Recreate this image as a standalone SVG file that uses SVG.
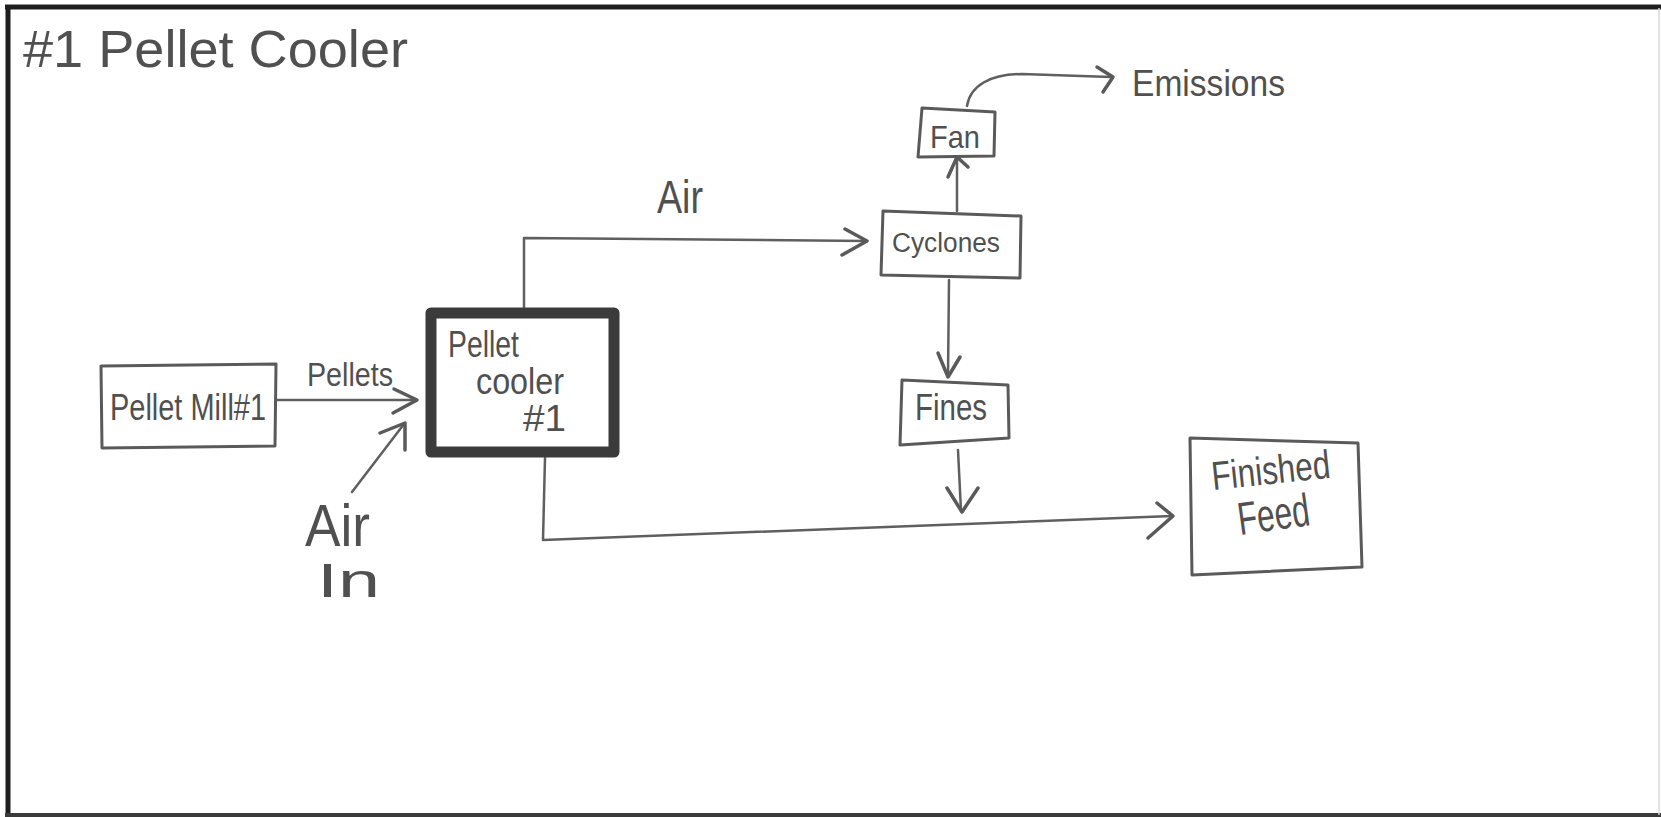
<svg xmlns="http://www.w3.org/2000/svg" width="1661" height="817" viewBox="0 0 1661 817">
<style>
.t{font-family:"Liberation Sans",Arial,sans-serif;fill:#505050}
.box{fill:none;stroke:#5a5a5a;stroke-width:3;stroke-linejoin:round}
.ln{fill:none;stroke:#5f5f5f;stroke-width:2.5;stroke-linecap:round;stroke-linejoin:round}
.hd{fill:none;stroke:#5a5a5a;stroke-width:3.5;stroke-linecap:round;stroke-linejoin:round}
</style>
<rect x="0" y="0" width="1661" height="817" fill="#ffffff"/>
<g id="frame">
<line x1="5" y1="7" x2="1661" y2="7" stroke="#1e1e1e" stroke-width="5"/>
<line x1="8" y1="5" x2="8" y2="816" stroke="#1e1e1e" stroke-width="5"/>
<line x1="5" y1="815" x2="1661" y2="815" stroke="#3a3a3a" stroke-width="4"/>
<line x1="1659" y1="8" x2="1659" y2="815" stroke="#d8d8d8" stroke-width="1.5"/>
</g>
<g id="title">
<text class="t" x="23" y="67" font-size="52" textLength="385" lengthAdjust="spacingAndGlyphs">#1 Pellet Cooler</text>
</g>
<g id="connectors">
<line class="ln" x1="276" y1="400" x2="416" y2="400"/>
<polyline class="hd" points="394,389 417,400 393,413"/>
<text class="t" x="307" y="386" font-size="34" textLength="86" lengthAdjust="spacingAndGlyphs">Pellets</text>
<line class="ln" x1="352" y1="492" x2="404" y2="424"/>
<polyline class="hd" points="380,433 405,423 405,450"/>
<path class="ln" d="M524,307 L524,238 L866,241"/>
<polyline class="hd" points="845,229 867,241 842,255"/>
<text class="t" x="657" y="213" font-size="46" textLength="46" lengthAdjust="spacingAndGlyphs">Air</text>
<line class="ln" x1="957" y1="211" x2="957" y2="158"/>
<polyline class="hd" points="948,177 957,157 968,167"/>
<path class="ln" d="M967,106 C970,86 990,74 1022,74 L1111,77"/>
<polyline class="hd" points="1097,67 1113,77 1103,92"/>
<line class="ln" x1="949" y1="280" x2="948" y2="376"/>
<polyline class="hd" points="938,353 948,377 960,357"/>
<line class="ln" x1="958" y1="450" x2="961" y2="511"/>
<polyline class="hd" points="947,488 962,512 978,488"/>
<path class="ln" d="M545,458 L543,540 L1172,516"/>
<polyline class="hd" points="1157,503 1173,516 1148,538"/>
</g>
<g id="air-in">
<text class="t" x="305" y="546" font-size="60" textLength="65" lengthAdjust="spacingAndGlyphs">Air</text>
<text class="t" x="317" y="597" font-size="48" textLength="63" lengthAdjust="spacingAndGlyphs">In</text>
</g>
<g id="pellet-mill">
<path class="box" d="M101,366 L276,364 L275,446 L102,448 Z"/>
<text class="t" x="110" y="420" font-size="36" textLength="156" lengthAdjust="spacingAndGlyphs">Pellet Mill#1</text>
</g>
<g id="pellet-cooler">
<rect x="431" y="313" width="183" height="139" fill="none" stroke="#3b3b3b" stroke-width="11" stroke-linejoin="round"/>
<text class="t" x="448" y="357" font-size="36" textLength="71" lengthAdjust="spacingAndGlyphs">Pellet</text>
<text class="t" x="476" y="394" font-size="36" textLength="88" lengthAdjust="spacingAndGlyphs">cooler</text>
<text class="t" x="523" y="431" font-size="36" textLength="43" lengthAdjust="spacingAndGlyphs">#1</text>
</g>
<g id="cyclones">
<path class="box" d="M883,211 L1021,216 L1020,278 L881,275 Z"/>
<text class="t" x="892" y="252" font-size="27" textLength="108" lengthAdjust="spacingAndGlyphs">Cyclones</text>
</g>
<g id="fan">
<path class="box" d="M922,108 L995,112 L994,156 L918,157 Z"/>
<text class="t" x="930" y="148" font-size="32" textLength="50" lengthAdjust="spacingAndGlyphs">Fan</text>
</g>
<g id="emissions">
<text class="t" x="1132" y="96" font-size="37" textLength="153" lengthAdjust="spacingAndGlyphs">Emissions</text>
</g>
<g id="fines">
<path class="box" d="M902,380 L1008,385 L1009,438 L900,445 Z"/>
<text class="t" x="915" y="420" font-size="37" textLength="72" lengthAdjust="spacingAndGlyphs">Fines</text>
</g>
<g id="finished-feed">
<path class="box" d="M1190,438 L1358,443 L1362,567 L1192,575 Z"/>
<text class="t" x="1213" y="490" font-size="40" textLength="119" lengthAdjust="spacingAndGlyphs" transform="rotate(-6 1213 490)">Finished</text>
<text class="t" x="1240" y="535" font-size="46" textLength="72" lengthAdjust="spacingAndGlyphs" transform="rotate(-8 1240 535)">Feed</text>
</g>
</svg>
